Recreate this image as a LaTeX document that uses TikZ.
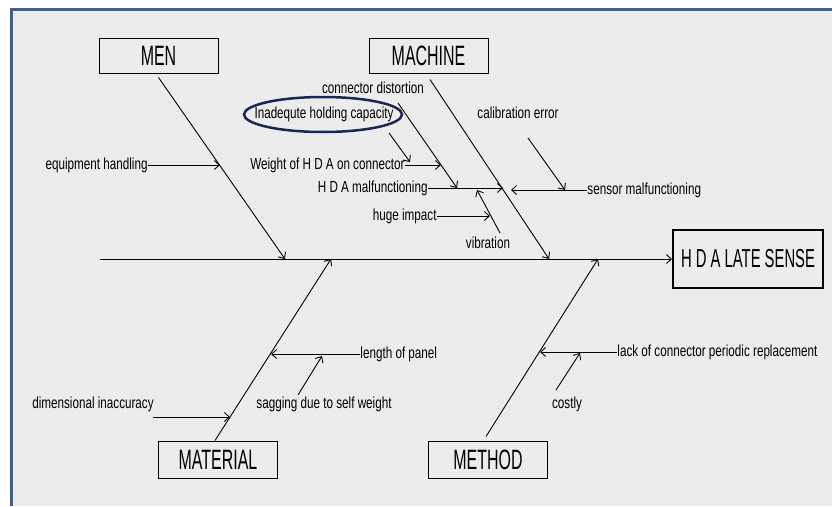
\documentclass[tikz,border=0pt]{standalone}
\usepackage{fontspec}
\setmainfont{Liberation Sans}[FakeStretch=0.73]
\newfontfamily\catfont{Liberation Sans}[FakeStretch=0.57]
\usetikzlibrary{arrows.meta}
\definecolor{panel}{HTML}{ECECEC}
\definecolor{frameblue}{HTML}{3F5F8F}
\definecolor{ringblue}{HTML}{1B2656}

\begin{document}
\begin{tikzpicture}[x=1pt,y=-1pt,line width=0.9pt,
    >={Straight Barb[length=5pt,width=9pt]}]
  \tikzstyle{cat}=[draw,line width=1pt,minimum width=119pt,minimum height=35pt,
    inner sep=0pt,font=\catfont\fontsize{28}{30}\selectfont]
  \tikzstyle{cause}=[inner sep=0pt,font=\fontsize{16}{18}\selectfont]
  \useasboundingbox (0,0) rectangle (832,506);
  \fill[panel] (11.5,9) rectangle (832,506);
  \draw[frameblue,line width=3pt] (11.5,506) -- (11.5,9) -- (832,9);

  % categories and effect
  \node[cat] (men) at (158.5,55.5) {MEN};
  \node[cat] (machine) at (428.5,55.5) {MACHINE};
  \node[cat,minimum height=37pt] (material) at (218,459.5) {MATERIAL};
  \node[cat,minimum height=37pt] (method) at (488,459.5) {METHOD};
  \node[cat,line width=2pt,minimum width=150pt,minimum height=58pt,
    font=\catfont\fontsize{26}{28}\selectfont] (effect) at (748,259) {H D A LATE SENSE};

  % spine
  \coordinate (tail) at (100,259);
  \draw[->] (tail) -- (effect.west);

  % main bones
  \coordinate (menE) at (285,259);
  \coordinate (macE) at (549,259);
  \coordinate (matE) at (331,259);
  \coordinate (metE) at (598,259);
  \draw[->] ([yshift=-4pt]men.south) -- (menE);
  \draw[->] ([xshift=1.5pt,yshift=-6pt]machine.south) -- (macE);
  \draw[->] ([xshift=-3pt]material.north) -- (matE);
  \draw[->] ([xshift=-2pt,yshift=4pt]method.north) -- (metE);

  % men
  \node[cause,anchor=east] (equip) at (148,165) {equipment handling};
  \coordinate (equipT) at (220,165);
  \draw[->] (equip.east) -- (equipT);

  % machine
  \node[cause,anchor=east] (hdam) at (428,188) {H D A malfunctioning};
  \coordinate (hdamT) at (503,188);
  \draw[->] (hdam.east) -- (hdamT);
  \node[cause] (distort) at (373,88) {connector distortion};
  \coordinate (distS) at (398,103);
  \coordinate (distT) at (457,188);
  \draw[->] (distS) -- (distT);
  \node[cause,anchor=east] (weight) at (405,165) {Weight of H D A on connector};
  \coordinate (weightT) at (441,165);
  \draw[->] (weight.east) -- (weightT);
  \node[cause] (capacity) at (324,114) {Inadequte holding capacity};
  \draw[ringblue,line width=2.5pt] (323,114.5) ellipse (79pt and 17.5pt);
  \coordinate (capS) at (389,133);
  \coordinate (capT) at (410,162);
  \draw[->] (capS) -- (capT);
  \node[cause] (vib) at (488,243) {vibration};
  \coordinate (vibS) at (500,233);
  \coordinate (vibT) at (477,190);
  \draw[->] (vibS) -- (vibT);
  \node[cause,anchor=east] (impact) at (437,216) {huge impact};
  \coordinate (impactT) at (490,216);
  \draw[->] (impact.east) -- (impactT);
  \node[cause] (calib) at (518,113) {calibration error};
  \coordinate (calS) at (528,138);
  \coordinate (calT) at (565,190);
  \draw[->] (calS) -- (calT);
  \node[cause,anchor=west] (sensor) at (587,190) {sensor malfunctioning};
  \coordinate (sensorT) at (511,190);
  \draw[->] (sensor.west) -- (sensorT);

  % material
  \node[cause] (dimens) at (93,404) {dimensional inaccuracy};
  \coordinate (dimS) at (153,417);
  \coordinate (dimT) at (230,417);
  \draw[->] (dimS) -- (dimT);
  \node[cause,anchor=west] (panel) at (360,354) {length of panel};
  \coordinate (panelT) at (271,354);
  \draw[->] (panel.west) -- (panelT);
  \node[cause] (sag) at (324,404) {sagging due to self weight};
  \coordinate (sagS) at (298,395);
  \coordinate (sagT) at (322,356);
  \draw[->] (sagS) -- (sagT);

  % method
  \node[cause,anchor=west] (lack) at (617,352) {lack of connector periodic replacement};
  \coordinate (lackT) at (540,352);
  \draw[->] (lack.west) -- (lackT);
  \node[cause] (costly) at (567,404) {costly};
  \coordinate (costS) at (556,390);
  \coordinate (costT) at (580,353);
  \draw[->] (costS) -- (costT);
\end{tikzpicture}
\end{document}
